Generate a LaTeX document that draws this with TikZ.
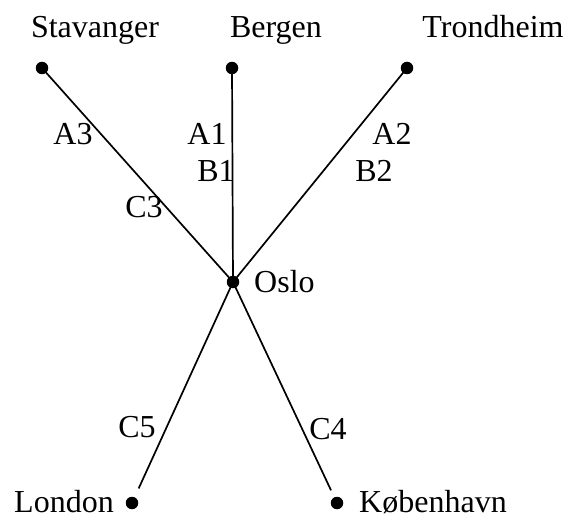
\documentclass[tikz,border=0pt]{standalone}
\usepackage{fontspec}
\setmainfont{Liberation Serif}
\usepackage{tikz}
\usetikzlibrary{positioning}
\tikzstyle{city} = [circle, fill=black, inner sep=0pt, minimum size=12.5pt]
\tikzstyle{place} = [inner sep=0pt, anchor=base, font=\fontsize{32}{38}\selectfont]
\tikzstyle{tag} = [inner sep=0pt, anchor=base, font=\fontsize{32}{38}\selectfont]
\tikzstyle{route} = [line width=1.7pt, black]

\begin{document}
\begin{tikzpicture}[x=1pt, y=-1pt]
        \useasboundingbox (0,0) rectangle (565,518);
        % Cities
        \node (stav) [city] at (42,68) {};
        \node (berg) [city] at (232,68) {};
        \node (trond) [city] at (407,68) {};
        \node (oslo) [city] at (233,282) {};
        \node (lond) [city] at (132,503) {};
        \node (kbh) [city] at (337,503) {};
        
        % City names
        \node (stavtxt) [place] at (95,38) {Stavanger};
        \node (bergtxt) [place] at (276,38) {Bergen};
        \node (trondtxt) [place] at (493,38) {Trondheim};
        \node (oslotxt) [place, anchor=base west] at (254,293) {Oslo};
        \node (londtxt) [place] at (64,512) {London};
        \node (kbhtxt) [place] at (433,512) {København};
        
        % Routes
        \draw [route] (stav.center) -- (oslo.center);
        \draw [route] (berg.center) -- (oslo.center);
        \draw [route] (trond.center) -- (oslo.center);
        \draw [route, shorten >=16pt] (oslo.center) -- (lond.center);
        \draw [route, shorten >=14pt] (oslo.center) -- (kbh.center);
        
        % Route tags
        \node (a3) [tag] at (73,145) {A3};
        \node (c3) [tag] at (144,218) {C3};
        \node (a1) [tag] at (207,145) {A1};
        \node (b1) [tag] at (216,182) {B1};
        \node (a2) [tag] at (392,145) {A2};
        \node (b2) [tag] at (374,182) {B2};
        \node (c5) [tag] at (137,438) {C5};
        \node (c4) [tag] at (328,439) {C4};
    \end{tikzpicture}
\end{document}
